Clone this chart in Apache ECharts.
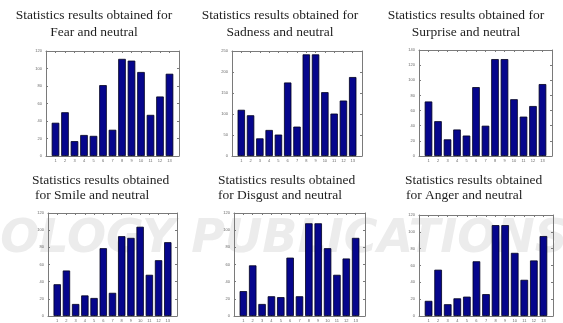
<!DOCTYPE html>
<html>
<head>
<meta charset="utf-8">
<script src="https://cdn.jsdelivr.net/npm/echarts@6/dist/echarts.min.js"></script>
<style>
html,body{margin:0;padding:0;background:#fff;}
#c{width:563px;height:323px;}
</style>
</head>
<body>
<div id="c"></div>
<script>
// ---- data ----
const categories = [1, 2, 3, 4, 5, 6, 7, 8, 9, 10, 11, 12, 13];
const fear     = [38, 50, 17, 24, 23, 81, 30, 111, 109, 96, 47, 68, 94];
const sadness  = [110, 97, 42, 62, 51, 175, 70, 242, 242, 152, 101, 132, 188];
const surprise = [72, 46, 22, 35, 27, 91, 40, 128, 128, 75, 52, 66, 95];
const smile    = [37, 53, 14, 24, 21, 79, 27, 93, 91, 104, 48, 65, 86];
const disgust  = [29, 59, 14, 23, 22, 68, 23, 108, 108, 79, 48, 67, 91];
const anger    = [18, 55, 14, 21, 23, 65, 26, 108, 108, 75, 43, 66, 95];
const titlesLine1 = ['Statistics results obtained for', 'Statistics results obtained for', 'Statistics results obtained for',
                     'Statistics results obtained', 'Statistics results obtained', 'Statistics results obtained'];
const titlesLine2 = ['Fear and neutral', 'Sadness and neutral', 'Surprise and neutral',
                     'for Smile and neutral', 'for Disgust and neutral', 'for Anger and neutral'];
const yMaxes = [120, 250, 140, 120, 120, 120];
const ySteps = [20, 50, 20, 20, 20, 20];
const seriesValues = [fear, sadness, surprise, smile, disgust, anger];

// ---- layout ----
const grids = [
  {left: 46,  top: 51,  width: 133, height: 105},
  {left: 232, top: 51,  width: 130, height: 105},
  {left: 419, top: 50,  width: 133, height: 106},
  {left: 48,  top: 213, width: 129, height: 106},
  {left: 234, top: 213, width: 131, height: 106},
  {left: 419, top: 215, width: 134, height: 104}
];
const titlePos = [
  {x: 94,  y1: 15,  y2: 32,  align: 'center'},
  {x: 280, y1: 15,  y2: 32,  align: 'center'},
  {x: 466, y1: 15,  y2: 32,  align: 'center'},
  {x: 32,  y1: 180, y2: 195.5, align: 'left', dx2: 3},
  {x: 218, y1: 180, y2: 195.5, align: 'left', dx2: 0},
  {x: 405, y1: 180, y2: 195.5, align: 'left', dx2: 1}
];

const axisCol = '#7a7a7a';
const xAxes = [], yAxes = [], series = [], graphics = [];

// faint background watermark
graphics.push({
  type: 'text', z: -10, silent: true,
  style: {text: 'OLOGY PUBLICATIONS', x: 568, y: 240, textAlign: 'right', textVerticalAlign: 'middle',
          font: 'bold italic 46px "DejaVu Sans"', fill: '#ececec'}
});

grids.forEach((g, i) => {
  const xi = xAxes.length, yi = yAxes.length;
  const common = {
    gridIndex: i, type: 'value', min: 0, max: 14, interval: 1,
    axisLine: {show: true, onZero: false, lineStyle: {color: axisCol, width: 1}},
    axisTick: {show: true, inside: true, length: 2, lineStyle: {color: axisCol}},
    splitLine: {show: false}
  };
  xAxes.push(Object.assign({}, common, {
    position: 'bottom',
    axisLabel: {show: true, fontSize: 4, color: '#666', margin: 3,
      formatter: v => (v >= 1 && v <= 13) ? String(v) : ''}
  }));
  xAxes.push(Object.assign({}, common, {position: 'top', axisLabel: {show: false}}));
  const ycommon = {
    gridIndex: i, type: 'value', min: 0, max: yMaxes[i], interval: ySteps[i],
    axisLine: {show: true, onZero: false, lineStyle: {color: axisCol, width: 1}},
    axisTick: {show: true, inside: true, length: 2, lineStyle: {color: axisCol}},
    splitLine: {show: false}
  };
  yAxes.push(Object.assign({}, ycommon, {
    position: 'left',
    axisLabel: {show: true, fontSize: 4, color: '#666', margin: 4}
  }));
  yAxes.push(Object.assign({}, ycommon, {position: 'right', axisLabel: {show: false}}));

  series.push({
    type: 'bar', xAxisIndex: xi, yAxisIndex: yi,
    data: categories.map((c, k) => [c, seriesValues[i][k]]),
    barWidth: g.width / 14 * 0.8,
    itemStyle: {color: '#06068c', borderColor: '#000020', borderWidth: 0.8},
    silent: true, animation: false
  });

  const t = titlePos[i];
  const font = '13.5px "Liberation Serif"';
  graphics.push({type: 'text', silent: true,
    style: {text: titlesLine1[i], x: t.x, y: t.y1, textAlign: t.align, textVerticalAlign: 'middle', font: font, fill: '#1e1e1e'}});
  graphics.push({type: 'text', silent: true,
    style: {text: titlesLine2[i], x: t.x + (t.dx2 || 0), y: t.y2, textAlign: t.align, textVerticalAlign: 'middle', font: font, fill: '#1e1e1e'}});
});

const chart = echarts.init(document.getElementById('c'), null, {renderer: 'canvas'});
chart.setOption({
  animation: false,
  backgroundColor: '#ffffff',
  grid: grids.map(g => Object.assign({containLabel: false}, g)),
  xAxis: xAxes,
  yAxis: yAxes,
  series: series,
  graphic: graphics
});
</script>
</body>
</html>
